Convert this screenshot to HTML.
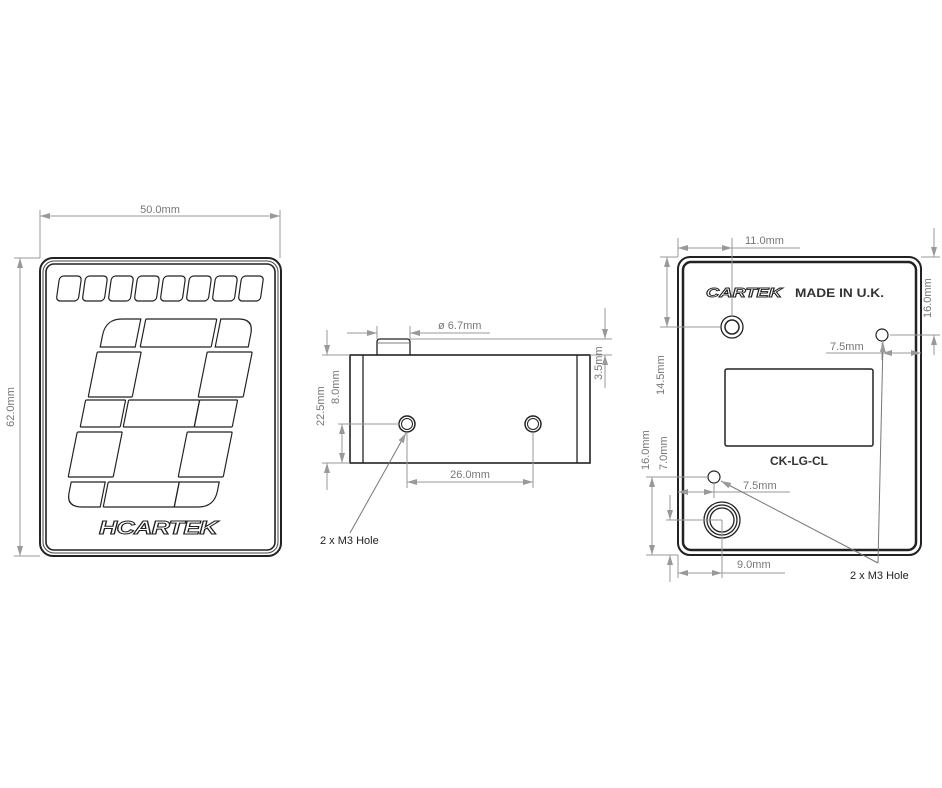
<!DOCTYPE html>
<html><head><meta charset="utf-8"><style>
html,body{margin:0;padding:0;background:#fff;}
svg{display:block;}
text{font-family:"Liberation Sans",sans-serif;}
.d{stroke:#999;stroke-width:1;fill:none;}
.t{fill:#777;font-size:11px;}
.k{stroke:#222;fill:none;}
</style></head><body>
<svg width="942" height="788" viewBox="0 0 942 788" xmlns="http://www.w3.org/2000/svg">
<defs>
<marker id="a" markerWidth="10" markerHeight="6" refX="10" refY="3" orient="auto-start-reverse" markerUnits="userSpaceOnUse"><path d="M0,0 L10,3 L0,6 Z" fill="#999"/></marker>
</defs>

<!-- FRONT VIEW -->
<line class="d" x1="40" y1="210" x2="40" y2="258"/>
<line class="d" x1="280" y1="210" x2="280" y2="258"/>
<line class="d" x1="40" y1="216" x2="280" y2="216" marker-start="url(#a)" marker-end="url(#a)"/>
<text class="t" x="160" y="213" text-anchor="middle">50.0mm</text>
<line class="d" x1="14" y1="258" x2="40" y2="258"/>
<line class="d" x1="14" y1="556" x2="40" y2="556"/>
<line class="d" x1="20" y1="258" x2="20" y2="556" marker-start="url(#a)" marker-end="url(#a)"/>
<text class="t" transform="translate(14,407) rotate(-90)" text-anchor="middle">62.0mm</text>

<rect x="40" y="258" width="241" height="298" rx="13" stroke="#222" stroke-width="2" fill="none"/>
<rect x="43" y="261" width="235" height="292" rx="11" stroke="#444" stroke-width="1" fill="none"/>
<rect x="46" y="264" width="229" height="286" rx="8" stroke="#222" stroke-width="1.6" fill="none"/>
<g class="k" stroke-width="1.2">
<g transform="translate(0,288) skewX(-8)">
<rect x="58" y="-12" width="22" height="25" rx="4"/>
<rect x="84" y="-12" width="22" height="25" rx="4"/>
<rect x="110" y="-12" width="22" height="25" rx="4"/>
<rect x="136" y="-12" width="22" height="25" rx="4"/>
<rect x="162" y="-12" width="22" height="25" rx="4"/>
<rect x="188" y="-12" width="22" height="25" rx="4"/>
<rect x="214" y="-12" width="22" height="25" rx="4"/>
<rect x="240" y="-12" width="22" height="25" rx="4"/>
</g>
<g transform="translate(0,333) skewX(-11.3)">
<path d="M103,14 L103,2 Q103,-14 119,-14 L138,-14 L138,14 Z"/>
<rect x="143" y="-14" width="71" height="28" rx="1"/>
<path d="M218,-14 L236,-14 Q251,-14 251,1 L251,14 L218,14 Z"/>
<rect x="101" y="19" width="44" height="45" rx="1"/>
<rect x="211" y="19" width="45" height="45" rx="1"/>
<rect x="99" y="67" width="40" height="27" rx="1"/>
<rect x="142" y="67" width="71" height="27" rx="1"/>
<rect x="213" y="67" width="38" height="27" rx="1"/>
<rect x="97" y="99" width="45" height="45" rx="1"/>
<rect x="207" y="99" width="45" height="45" rx="1"/>
<path d="M101,149 L135,149 L135,174 L117,174 Q101,174 101,160 Z"/>
<rect x="138" y="149" width="71" height="25" rx="1"/>
<path d="M209,149 L249,149 L249,158 Q249,174 233,174 L209,174 Z"/>
</g>
</g>
<text x="158" y="534" text-anchor="middle" font-size="18" font-weight="bold" font-style="italic" fill="#fff" stroke="#222" stroke-width="1" letter-spacing="-0.5" textLength="118" lengthAdjust="spacingAndGlyphs">HCARTEK</text>

<!-- SIDE VIEW -->
<rect x="350" y="355" width="240" height="108" stroke="#222" stroke-width="1.6" fill="none"/>
<line x1="363" y1="355" x2="363" y2="463" stroke="#222" stroke-width="1.3"/>
<line x1="577" y1="355" x2="577" y2="463" stroke="#222" stroke-width="1.3"/>
<path d="M377,355 L377,342 Q377,339 380,339 L407,339 Q410,339 410,342 L410,355" stroke="#222" stroke-width="1.3" fill="none"/>
<line x1="378" y1="343" x2="409" y2="343" stroke="#555" stroke-width="0.8"/>
<circle cx="407" cy="424" r="8" stroke="#222" stroke-width="1.5" fill="none"/>
<circle cx="407" cy="424" r="5.5" stroke="#222" stroke-width="1" fill="none"/>
<circle cx="533" cy="424" r="8" stroke="#222" stroke-width="1.5" fill="none"/>
<circle cx="533" cy="424" r="5.5" stroke="#222" stroke-width="1" fill="none"/>
<line class="d" x1="377" y1="326" x2="377" y2="339"/>
<line class="d" x1="410" y1="326" x2="410" y2="339"/>
<line class="d" x1="347" y1="333" x2="377" y2="333" marker-end="url(#a)"/>
<line class="d" x1="410" y1="333" x2="490" y2="333" marker-start="url(#a)"/>
<text class="t" x="438" y="329">ø 6.7mm</text>
<line class="d" x1="410" y1="339" x2="612" y2="339"/>
<line class="d" x1="590" y1="355" x2="612" y2="355"/>
<line class="d" x1="605" y1="308" x2="605" y2="339" marker-end="url(#a)"/>
<line class="d" x1="605" y1="355" x2="605" y2="388" marker-start="url(#a)"/>
<text class="t" transform="translate(602,380) rotate(-90)">3.5mm</text>
<line class="d" x1="322" y1="355" x2="350" y2="355"/>
<line class="d" x1="322" y1="463" x2="350" y2="463"/>
<line class="d" x1="327" y1="330" x2="327" y2="355" marker-end="url(#a)"/>
<line class="d" x1="327" y1="463" x2="327" y2="490" marker-start="url(#a)"/>
<text class="t" transform="translate(324,426) rotate(-90)">22.5mm</text>
<line class="d" x1="338" y1="424" x2="400" y2="424"/>
<line class="d" x1="342" y1="424" x2="342" y2="463" marker-start="url(#a)" marker-end="url(#a)"/>
<text class="t" transform="translate(339,404) rotate(-90)">8.0mm</text>
<line class="d" x1="407" y1="432" x2="407" y2="488"/>
<line class="d" x1="533" y1="432" x2="533" y2="488"/>
<line class="d" x1="407" y1="482" x2="533" y2="482" marker-start="url(#a)" marker-end="url(#a)"/>
<text class="t" x="470" y="478" text-anchor="middle">26.0mm</text>
<line x1="350" y1="533" x2="406" y2="433" stroke="#777" stroke-width="1" marker-end="url(#a)"/>
<text x="320" y="544" font-size="11" fill="#222">2 x M3 Hole</text>

<!-- BACK VIEW -->
<rect x="678" y="257" width="243" height="298" rx="12" stroke="#222" stroke-width="2" fill="none"/>
<rect x="683" y="262" width="233" height="288" rx="8" stroke="#222" stroke-width="2.5" fill="none"/>
<text x="706" y="297" font-size="13" font-weight="bold" font-style="italic" fill="#fff" stroke="#222" stroke-width="0.9" textLength="76" lengthAdjust="spacingAndGlyphs">CARTEK</text>
<text x="795" y="297" font-size="12" font-weight="bold" fill="#333" textLength="89" lengthAdjust="spacingAndGlyphs">MADE IN U.K.</text>
<circle cx="732" cy="327" r="11" stroke="#222" stroke-width="1.3" fill="none"/>
<circle cx="732" cy="327" r="7" stroke="#222" stroke-width="1.5" fill="none"/>
<circle cx="882" cy="335" r="6" stroke="#222" stroke-width="1.2" fill="none"/>
<rect x="725" y="369" width="148" height="77" rx="2" stroke="#222" stroke-width="1.5" fill="none"/>
<text x="799" y="465" font-size="12" font-weight="bold" fill="#333" text-anchor="middle">CK-LG-CL</text>
<circle cx="714" cy="477" r="6" stroke="#222" stroke-width="1.2" fill="none"/>
<circle cx="722" cy="520" r="18" stroke="#222" stroke-width="1.3" fill="none"/>
<circle cx="722" cy="520" r="15" stroke="#222" stroke-width="1.3" fill="none"/>
<circle cx="722" cy="520" r="12" stroke="#222" stroke-width="1.3" fill="none"/>
<!-- dims -->
<line class="d" x1="678" y1="238" x2="678" y2="257"/>
<line class="d" x1="732" y1="238" x2="732" y2="316"/>
<line class="d" x1="678" y1="248" x2="732" y2="248" marker-start="url(#a)" marker-end="url(#a)"/>
<line class="d" x1="732" y1="248" x2="800" y2="248"/>
<text class="t" x="745" y="244">11.0mm</text>
<line class="d" x1="660" y1="257" x2="678" y2="257"/>
<line class="d" x1="660" y1="327" x2="720" y2="327"/>
<line class="d" x1="667" y1="257" x2="667" y2="327" marker-start="url(#a)" marker-end="url(#a)"/>
<text class="t" transform="translate(664,395) rotate(-90)">14.5mm</text>
<line class="d" x1="921" y1="257" x2="940" y2="257"/>
<line class="d" x1="890" y1="335" x2="940" y2="335"/>
<line class="d" x1="934" y1="228" x2="934" y2="257" marker-end="url(#a)"/>
<line class="d" x1="934" y1="335" x2="934" y2="355" marker-start="url(#a)"/>
<text class="t" transform="translate(931,318) rotate(-90)">16.0mm</text>
<line class="d" x1="882" y1="343" x2="882" y2="360"/>
<line class="d" x1="826" y1="353" x2="882" y2="353"/>
<line class="d" x1="882" y1="353" x2="921" y2="353" marker-start="url(#a)" marker-end="url(#a)"/>
<text class="t" x="830" y="350">7.5mm</text>
<line class="d" x1="646" y1="477" x2="707" y2="477"/>
<line class="d" x1="646" y1="555" x2="678" y2="555"/>
<line class="d" x1="652" y1="477" x2="652" y2="555" marker-start="url(#a)" marker-end="url(#a)"/>
<text class="t" transform="translate(649,470) rotate(-90)">16.0mm</text>
<line class="d" x1="666" y1="520" x2="722" y2="520"/>
<line class="d" x1="670" y1="495" x2="670" y2="520" marker-end="url(#a)"/>
<line class="d" x1="670" y1="555" x2="670" y2="582" marker-start="url(#a)"/>
<text class="t" transform="translate(667,470) rotate(-90)">7.0mm</text>
<line class="d" x1="714" y1="483" x2="714" y2="498"/>
<line class="d" x1="678" y1="492" x2="714" y2="492" marker-start="url(#a)" marker-end="url(#a)"/>
<line class="d" x1="714" y1="492" x2="790" y2="492"/>
<text class="t" x="743" y="489">7.5mm</text>
<line class="d" x1="678" y1="555" x2="678" y2="578"/>
<line class="d" x1="722" y1="520" x2="722" y2="578"/>
<line class="d" x1="678" y1="573" x2="722" y2="573" marker-start="url(#a)" marker-end="url(#a)"/>
<line class="d" x1="722" y1="573" x2="785" y2="573"/>
<text class="t" x="737" y="568">9.0mm</text>
<line x1="878" y1="563" x2="721" y2="481" stroke="#777" stroke-width="1" marker-end="url(#a)"/>
<line x1="878" y1="563" x2="883" y2="342" stroke="#777" stroke-width="1" marker-end="url(#a)"/>
<text x="850" y="579" font-size="11" fill="#222">2 x M3 Hole</text>
</svg>
</body></html>
